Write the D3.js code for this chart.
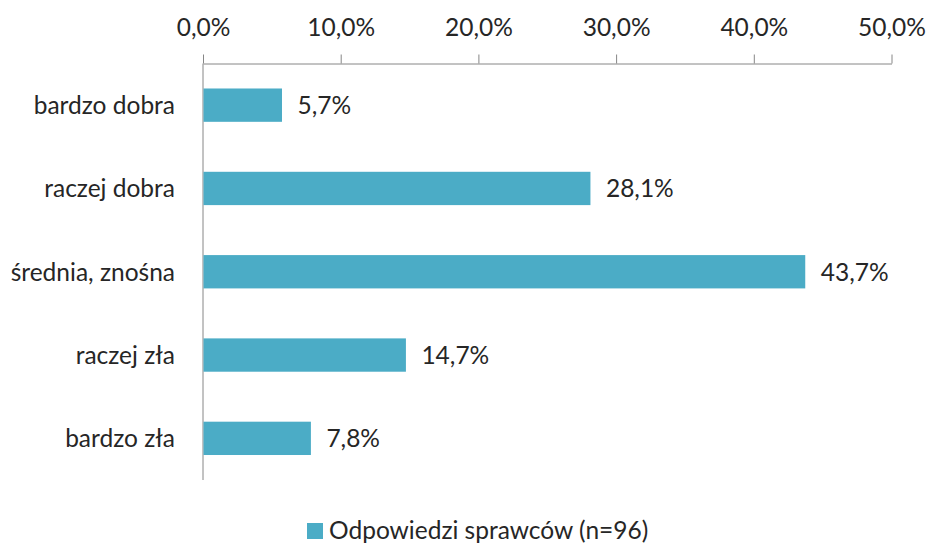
<!DOCTYPE html>
<html><head><meta charset="utf-8">
<script src="https://cdn.jsdelivr.net/npm/d3@7"></script>
<style>
body{margin:0;background:#fff;}
text{font-family:Lato, "Open Sans", sans-serif;fill:#262626;}
</style></head>
<body><svg id="c" width="927" height="544"></svg>
<script>
const categories = ["bardzo dobra","raczej dobra","średnia, znośna","raczej zła","bardzo zła"];
const values = [5.7, 28.1, 43.7, 14.7, 7.8];
const tickValues = [0,10,20,30,40,50];
const seriesName = "Odpowiedzi sprawców (n=96)";
const color = "#4BACC6";

const svg = d3.select("#c");
const m = {left:203, right:36, top:63.5, bottom:64};
const FS = 24.5;
const x = d3.scaleLinear().domain([0,50]).range([m.left, 891.5]);
const y = d3.scaleBand().domain(categories).range([m.top, 480]).paddingInner(0.6).paddingOuter(0.3);
const fmt = v => d3.format(".1f")(v).replace(".", ",") + "%";

const xAxis = d3.axisTop(x).tickValues(tickValues).tickFormat(fmt).tickSize(9).tickSizeOuter(0);
const gx = svg.append("g").attr("transform",`translate(0,${m.top})`).call(xAxis);
gx.select(".domain").attr("stroke","#868686");
gx.selectAll(".tick line").attr("stroke","#868686");
gx.selectAll(".tick text").attr("font-size",FS).attr("fill","#262626").attr("y",-27.5).attr("dy",0)
  .style("font-family","Lato, sans-serif");

svg.append("line").attr("x1",x(0)).attr("x2",x(0)).attr("y1",m.top).attr("y2",480).attr("stroke","#868686");

svg.selectAll("rect.bar").data(values).join("rect").attr("class","bar")
  .attr("x",x(0)+0.5).attr("y",(d,i)=>y(categories[i]))
  .attr("width",d=>x(d)-x(0)).attr("height",y.bandwidth())
  .attr("fill",color);

svg.selectAll("text.val").data(values).join("text").attr("class","val")
  .attr("x",d=>x(d)+16).attr("y",(d,i)=>y(categories[i])+y.bandwidth()/2)
  .attr("dy","0.36em").attr("font-size",FS).text(d=>fmt(d));

svg.selectAll("text.cat").data(categories).join("text").attr("class","cat")
  .attr("x",175).attr("y",d=>y(d)+y.bandwidth()/2).attr("dy","0.36em")
  .attr("text-anchor","end").attr("font-size",FS).text(d=>d);

const lg = svg.append("g");
lg.append("rect").attr("x",307).attr("y",523).attr("width",16).attr("height",16).attr("fill",color);
lg.append("text").attr("x",329).attr("y",538.5).attr("font-size",FS).text(seriesName);
</script></body></html>
